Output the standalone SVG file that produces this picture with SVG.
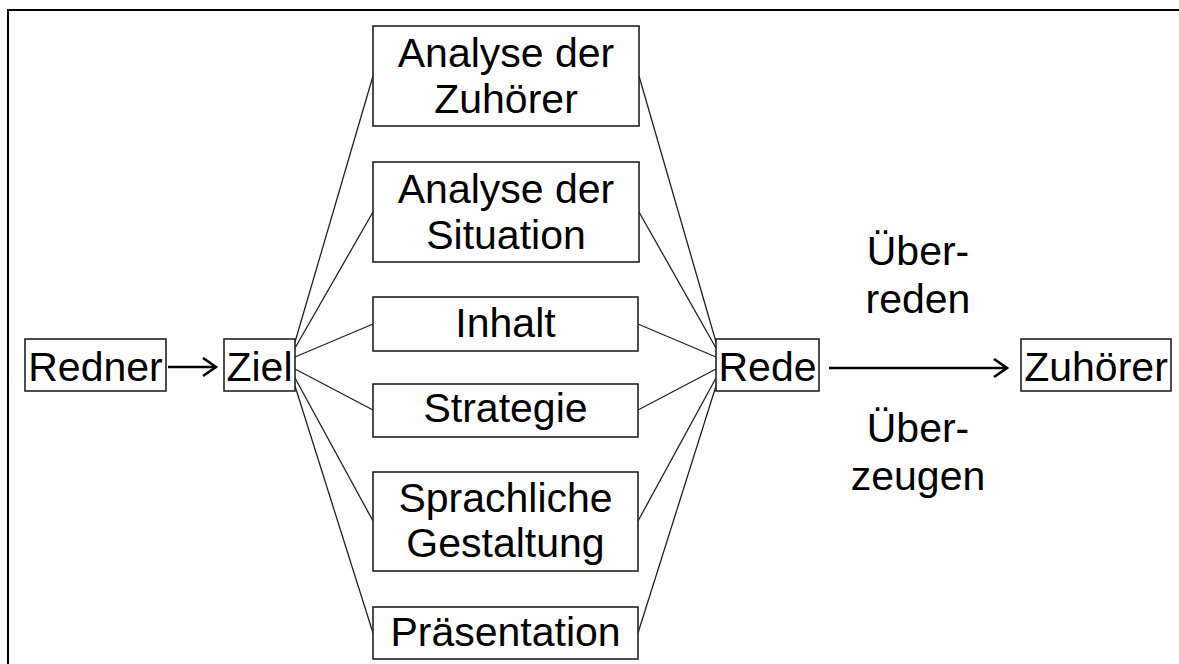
<svg xmlns="http://www.w3.org/2000/svg" width="1179" height="664" viewBox="0 0 1179 664">
  <style>
    .box { fill: #ffffff; stroke: #222222; stroke-width: 1.6; }
    .lbl { font-family: "Liberation Sans", Arial, sans-serif; font-size: 41px; fill: #000000; text-anchor: middle; }
    .link { stroke: #222222; stroke-width: 1.3; fill: none; }
    .arrow { stroke: #000000; stroke-width: 2.6; fill: none; }
    .frame { stroke: #000000; stroke-width: 2; fill: none; }
  </style>
  <defs>
    <marker id="chevron" markerUnits="userSpaceOnUse" markerWidth="24" markerHeight="24" refX="18" refY="10" orient="auto">
      <path d="M5,1 L18,10 L5,19" fill="none" stroke="#000000" stroke-width="2.6"/>
    </marker>
  </defs>
  <rect width="1179" height="664" fill="#ffffff"/>

  <!-- page frame: top and left edges only -->
  <path class="frame" d="M8,664 L8,10 L1179,10"/>

  <!-- connectors -->
  <g id="connectors">
    <line class="link" x1="295" y1="342" x2="373" y2="76"/>
    <line class="link" x1="295" y1="348" x2="373" y2="212"/>
    <line class="link" x1="295" y1="357" x2="373" y2="324"/>
    <line class="link" x1="295" y1="369" x2="373" y2="410"/>
    <line class="link" x1="295" y1="378" x2="373" y2="521"/>
    <line class="link" x1="295" y1="386" x2="373" y2="633"/>
    <line class="link" x1="639" y1="76" x2="716" y2="342"/>
    <line class="link" x1="639" y1="212" x2="716" y2="348"/>
    <line class="link" x1="638" y1="324" x2="716" y2="357"/>
    <line class="link" x1="638" y1="410" x2="716" y2="369"/>
    <line class="link" x1="638" y1="521" x2="716" y2="378"/>
    <line class="link" x1="638" y1="633" x2="716" y2="386"/>
    <line class="arrow" x1="168" y1="367" x2="216" y2="367" marker-end="url(#chevron)"/>
    <line class="arrow" x1="829" y1="368" x2="1007" y2="368" marker-end="url(#chevron)"/>
  </g>

  <g id="redner">
    <rect class="box" x="25" y="339" width="141" height="52"/>
    <text class="lbl" x="95.5" y="381">Redner</text>
  </g>
  <g id="ziel">
    <rect class="box" x="224" y="339" width="71" height="52"/>
    <text class="lbl" x="259.5" y="381">Ziel</text>
  </g>
  <g id="analyse-zuhoerer">
    <rect class="box" x="373" y="26" width="266" height="100"/>
    <text class="lbl" x="506" y="67">Analyse der</text>
    <text class="lbl" x="506" y="113">Zuhörer</text>
  </g>
  <g id="analyse-situation">
    <rect class="box" x="373" y="162" width="266" height="100"/>
    <text class="lbl" x="506" y="203">Analyse der</text>
    <text class="lbl" x="506" y="249">Situation</text>
  </g>
  <g id="inhalt">
    <rect class="box" x="373" y="297" width="265" height="54"/>
    <text class="lbl" x="505.5" y="337">Inhalt</text>
  </g>
  <g id="strategie">
    <rect class="box" x="373" y="384" width="265" height="53"/>
    <text class="lbl" x="505.5" y="422">Strategie</text>
  </g>
  <g id="sprachliche-gestaltung">
    <rect class="box" x="373" y="472" width="265" height="99"/>
    <text class="lbl" x="505.5" y="512">Sprachliche</text>
    <text class="lbl" x="505.5" y="557">Gestaltung</text>
  </g>
  <g id="praesentation">
    <rect class="box" x="373" y="607" width="265" height="52"/>
    <text class="lbl" x="505.5" y="646">Präsentation</text>
  </g>
  <g id="rede">
    <rect class="box" x="716" y="339" width="103" height="52"/>
    <text class="lbl" x="767.5" y="381">Rede</text>
  </g>
  <g id="zuhoerer">
    <rect class="box" x="1021" y="339" width="150" height="52"/>
    <text class="lbl" x="1096" y="381">Zuhörer</text>
  </g>

  <!-- labels on the main arrow -->
  <g id="arrow-labels">
    <text class="lbl" x="918" y="265">Über-</text>
    <text class="lbl" x="918" y="313">reden</text>
    <text class="lbl" x="918" y="442">Über-</text>
    <text class="lbl" x="918" y="490">zeugen</text>
  </g>
</svg>
